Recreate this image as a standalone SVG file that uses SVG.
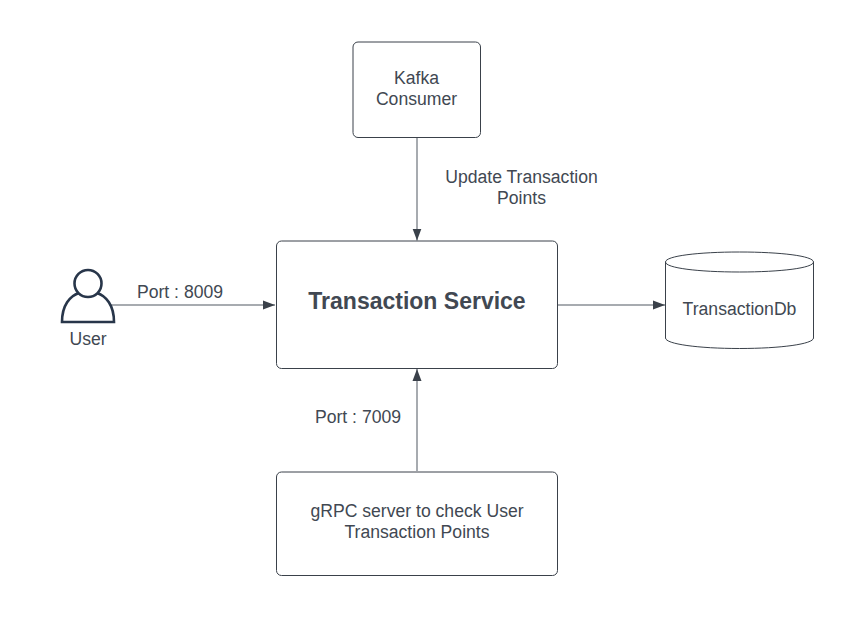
<svg xmlns="http://www.w3.org/2000/svg" width="850" height="626" viewBox="0 0 850 626">
<style>
text{font-family:"Liberation Sans",Arial,sans-serif;font-size:17.6px;fill:#414852;text-anchor:middle}
.box{fill:#fff;stroke:#3a414a;stroke-width:1}
.edge{fill:none;stroke:#8a8f96;stroke-width:1.5}
.ic{fill:#fff;stroke:#28364a;stroke-width:2.6}
</style>
<defs><marker id="arrow" markerUnits="userSpaceOnUse" markerWidth="12" markerHeight="10" refX="12" refY="5" orient="auto"><path d="M0 0.500L12 5L0 9.500Z" fill="#3a414a"/></marker></defs>
<rect width="850" height="626" fill="#fff"/>
<g id="connectors">
<path class="edge" d="M110 305H275" marker-end="url(#arrow)"/>
<path class="edge" d="M557 305H665" marker-end="url(#arrow)"/>
<path class="edge" d="M417 138V240.500" marker-end="url(#arrow)"/>
<path class="edge" d="M417 471V369" marker-end="url(#arrow)"/>
</g>
<g id="edge-labels">
<text x="180" y="297.500">Port : 8009</text>
<text x="521.500" y="182.500">Update Transaction</text>
<text x="521.500" y="203.500">Points</text>
<text x="358" y="422.500">Port : 7009</text>
</g>
<g id="kafka"><rect class="box" x="353" y="42" width="127.500" height="95.500" rx="5"/><text x="416.500" y="83.500">Kafka</text><text x="416.500" y="104.500">Consumer</text></g>
<g id="service"><rect class="box" x="276.500" y="241" width="281" height="127.500" rx="5"/><text x="417" y="309" style="font-size:23px;font-weight:700">Transaction Service</text></g>
<g id="grpc"><rect class="box" x="276.500" y="472" width="281" height="103.500" rx="5"/><text x="417" y="516.500">gRPC server to check User</text><text x="417" y="537.500">Transaction Points</text></g>
<g id="db"><path class="box" d="M665.500 262V338C665.500 344 698 348.500 739.500 348.500S813.500 344 813.500 338V262C813.500 256 781 252 739.500 252S665.500 256 665.500 262C665.500 268 698 272 739.500 272S813.500 268 813.500 262"/><text x="739.500" y="314.500">TransactionDb</text></g>
<g id="user"><path class="ic" d="M62 322C62 305 70 296 79 293H97C106 296 114 305 114 322Z"/><circle class="ic" cx="88" cy="283.500" r="13.500"/><text x="88" y="345">User</text></g>
</svg>
